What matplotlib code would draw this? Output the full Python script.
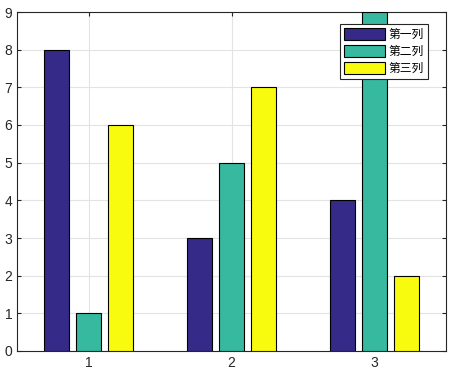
import matplotlib.pyplot as plt
import numpy as np

plt.rcParams['font.family'] = ['Liberation Sans', 'Noto Sans CJK SC', 'DejaVu Sans']

groups = [1, 2, 3]
series_names = ["第一列", "第二列", "第三列"]
series1 = [8, 3, 4]
series2 = [1, 5, 9]
series3 = [6, 7, 2]

colors = ["#352a87", "#36b99f", "#f9fb0e"]

fig = plt.figure(figsize=(4.59, 3.75), dpi=100)
ax = fig.add_axes([17 / 459, 24 / 375, 429 / 459, 339 / 375])

x = np.array(groups, dtype=float)
width = 0.18
step = 0.224
for i, (vals, name, c) in enumerate(zip([series1, series2, series3], series_names, colors)):
    ax.bar(x + (i - 1) * step, vals, width, color=c, edgecolor="black",
           linewidth=0.8, label=name, zorder=3)

ax.set_xlim(0.5, 3.5)
ax.set_ylim(0, 9)
ax.set_xticks(groups)
ax.set_yticks(range(0, 10))
ax.grid(True, color="#e3e3e3", linewidth=0.8, zorder=0)
ax.set_axisbelow(True)
ax.tick_params(direction="in", top=True, right=True, labelsize=10, length=3,
               colors="#262626")
for s in ax.spines.values():
    s.set_color("#262626")
    s.set_linewidth(0.8)

leg = ax.legend(loc="upper right", bbox_to_anchor=(0.958, 0.965), fontsize=8.5,
                fancybox=False, edgecolor="#262626", framealpha=1,
                handlelength=3.5, handleheight=1.2, borderpad=0.35,
                labelspacing=0.35, handletextpad=0.3, borderaxespad=0)
leg.get_frame().set_linewidth(0.8)

fig.savefig("out.png", dpi=100)
